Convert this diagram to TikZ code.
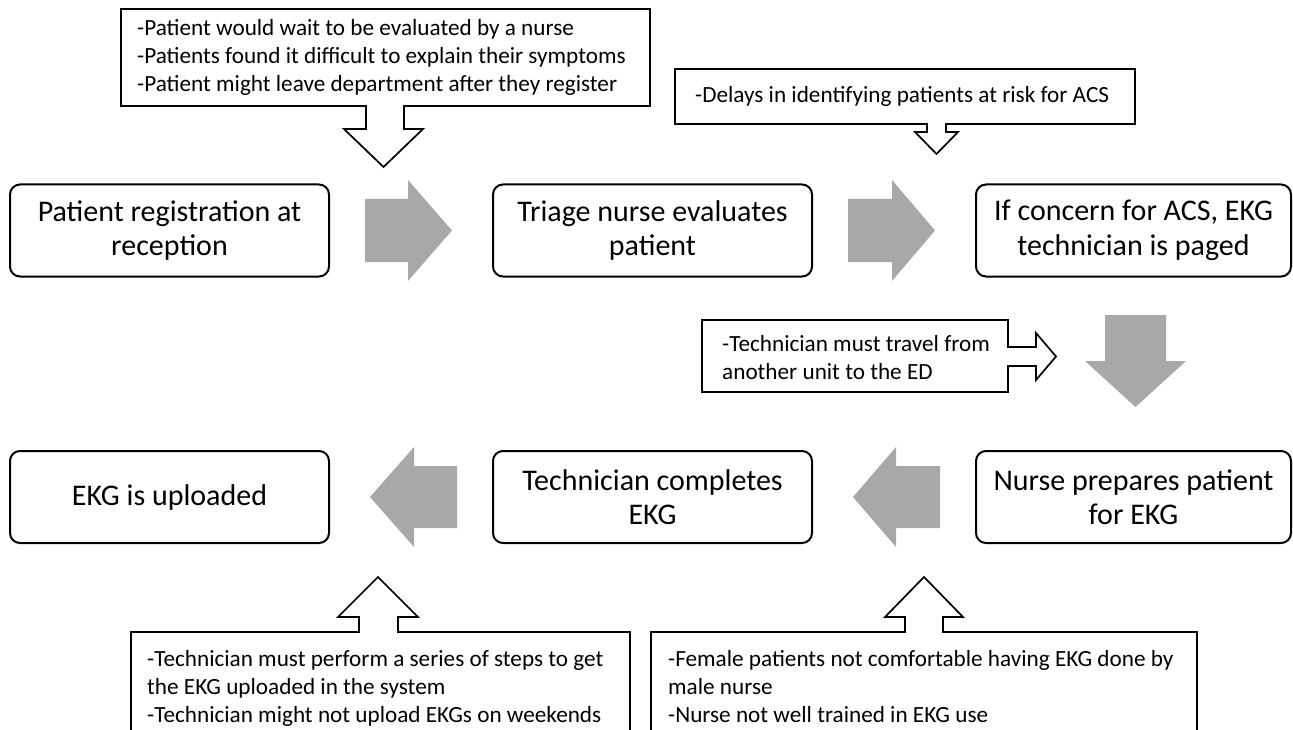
\documentclass[tikz,border=0pt]{standalone}
\usepackage{fontspec}
\setmainfont{Carlito}
\definecolor{arrowgray}{HTML}{A8A8A8}
\begin{document}
\begin{tikzpicture}[x=1pt,y=-1pt,
  stepbox/.style={draw=black, line width=2pt, rounded corners=10pt, minimum height=92pt, align=center, inner sep=0pt, font=\fontsize{30}{34.5}\selectfont},
  callout/.style={draw=black, line width=1.7pt, fill=white, line join=miter},
  note/.style={anchor=north west, align=left, inner sep=0pt, font=\fontsize{23.2}{28}\selectfont},
  flowarrow/.style={fill=arrowgray, draw=none}
]
\useasboundingbox (0,0) rectangle (1293,730);
\clip (0,0) rectangle (1293,730);

% main process boxes
\node[stepbox, minimum width=319pt] (b1) at (169.5,230.5) {Patient registration at\\reception};
\node[stepbox, minimum width=319pt] (b2) at (652.5,230.5) {Triage nurse evaluates\\patient};
\node[stepbox, minimum width=315pt] (b3) at (1133.5,230.5) {If concern for ACS, EKG\\technician is paged};
\node[stepbox, minimum width=319pt] (b4) at (169.5,497) {EKG is uploaded};
\node[stepbox, minimum width=319pt] (b5) at (652.5,497) {Technician completes\\EKG};
\node[stepbox, minimum width=315pt] (b6) at (1133.5,497) {Nurse prepares patient\\for EKG};

% grey block arrows between steps
\fill[flowarrow] (365,199) -- (408,199) -- (408,180) -- (452,230.5) -- (408,281) -- (408,262) -- (365,262) -- cycle;
\fill[flowarrow] (848,199) -- (892,199) -- (892,180) -- (935,230.5) -- (892,281) -- (892,262) -- (848,262) -- cycle;
\fill[flowarrow] (1105,315) -- (1166,315) -- (1166,361) -- (1186,361) -- (1135.5,407) -- (1085,361) -- (1105,361) -- cycle;
\fill[flowarrow] (940,466) -- (896,466) -- (896,447) -- (853,497) -- (896,547) -- (896,528) -- (940,528) -- cycle;
\fill[flowarrow] (457,466) -- (414,466) -- (414,447) -- (370,497) -- (414,547) -- (414,528) -- (457,528) -- cycle;

% callouts
\begin{scope}
\draw[callout] (121,9) -- (650,9) -- (650,106) -- (404,106) -- (404,129) -- (423,129) -- (383.5,167) -- (344,129) -- (366,129) -- (366,106) -- (121,106) -- cycle;
\clip (121,9) rectangle (650,95);
\node[note] (n1) at (137,19) {-Patient would wait to be evaluated by a nurse\\-Patients found it difficult to explain their symptoms\\-Patient might leave department after they register};
\end{scope}

\draw[callout] (675,69) -- (1135,69) -- (1135,124) -- (946,124) -- (946,132) -- (958,132) -- (936.5,154) -- (915,132) -- (927,132) -- (927,124) -- (675,124) -- cycle;
\node[note] (n2) at (695,86) {-Delays in identifying patients at risk for ACS};

\draw[callout] (702,320) -- (1008,320) -- (1008,347) -- (1036,347) -- (1036,333) -- (1056,356.5) -- (1036,380) -- (1036,366) -- (1008,366) -- (1008,392) -- (702,392) -- cycle;
\node[note] (n3) at (722,335) {-Technician must travel from\\another unit to the ED};

\draw[callout] (131,632) -- (359,632) -- (359,617) -- (338,617) -- (378,577) -- (418,617) -- (398,617) -- (398,632) -- (630,632) -- (630,745) -- (131,745) -- cycle;
\node[note] (n4) at (147,650) {-Technician must perform a series of steps to get\\the EKG uploaded in the system\\-Technician might not upload EKGs on weekends};

\draw[callout] (651,632) -- (905,632) -- (905,617) -- (885,617) -- (924,577) -- (963,617) -- (943,617) -- (943,632) -- (1197,632) -- (1197,745) -- (651,745) -- cycle;
\node[note] (n5) at (668,650) {-Female patients not comfortable having EKG done by\\male nurse\\-Nurse not well trained in EKG use};
\end{tikzpicture}
\end{document}
